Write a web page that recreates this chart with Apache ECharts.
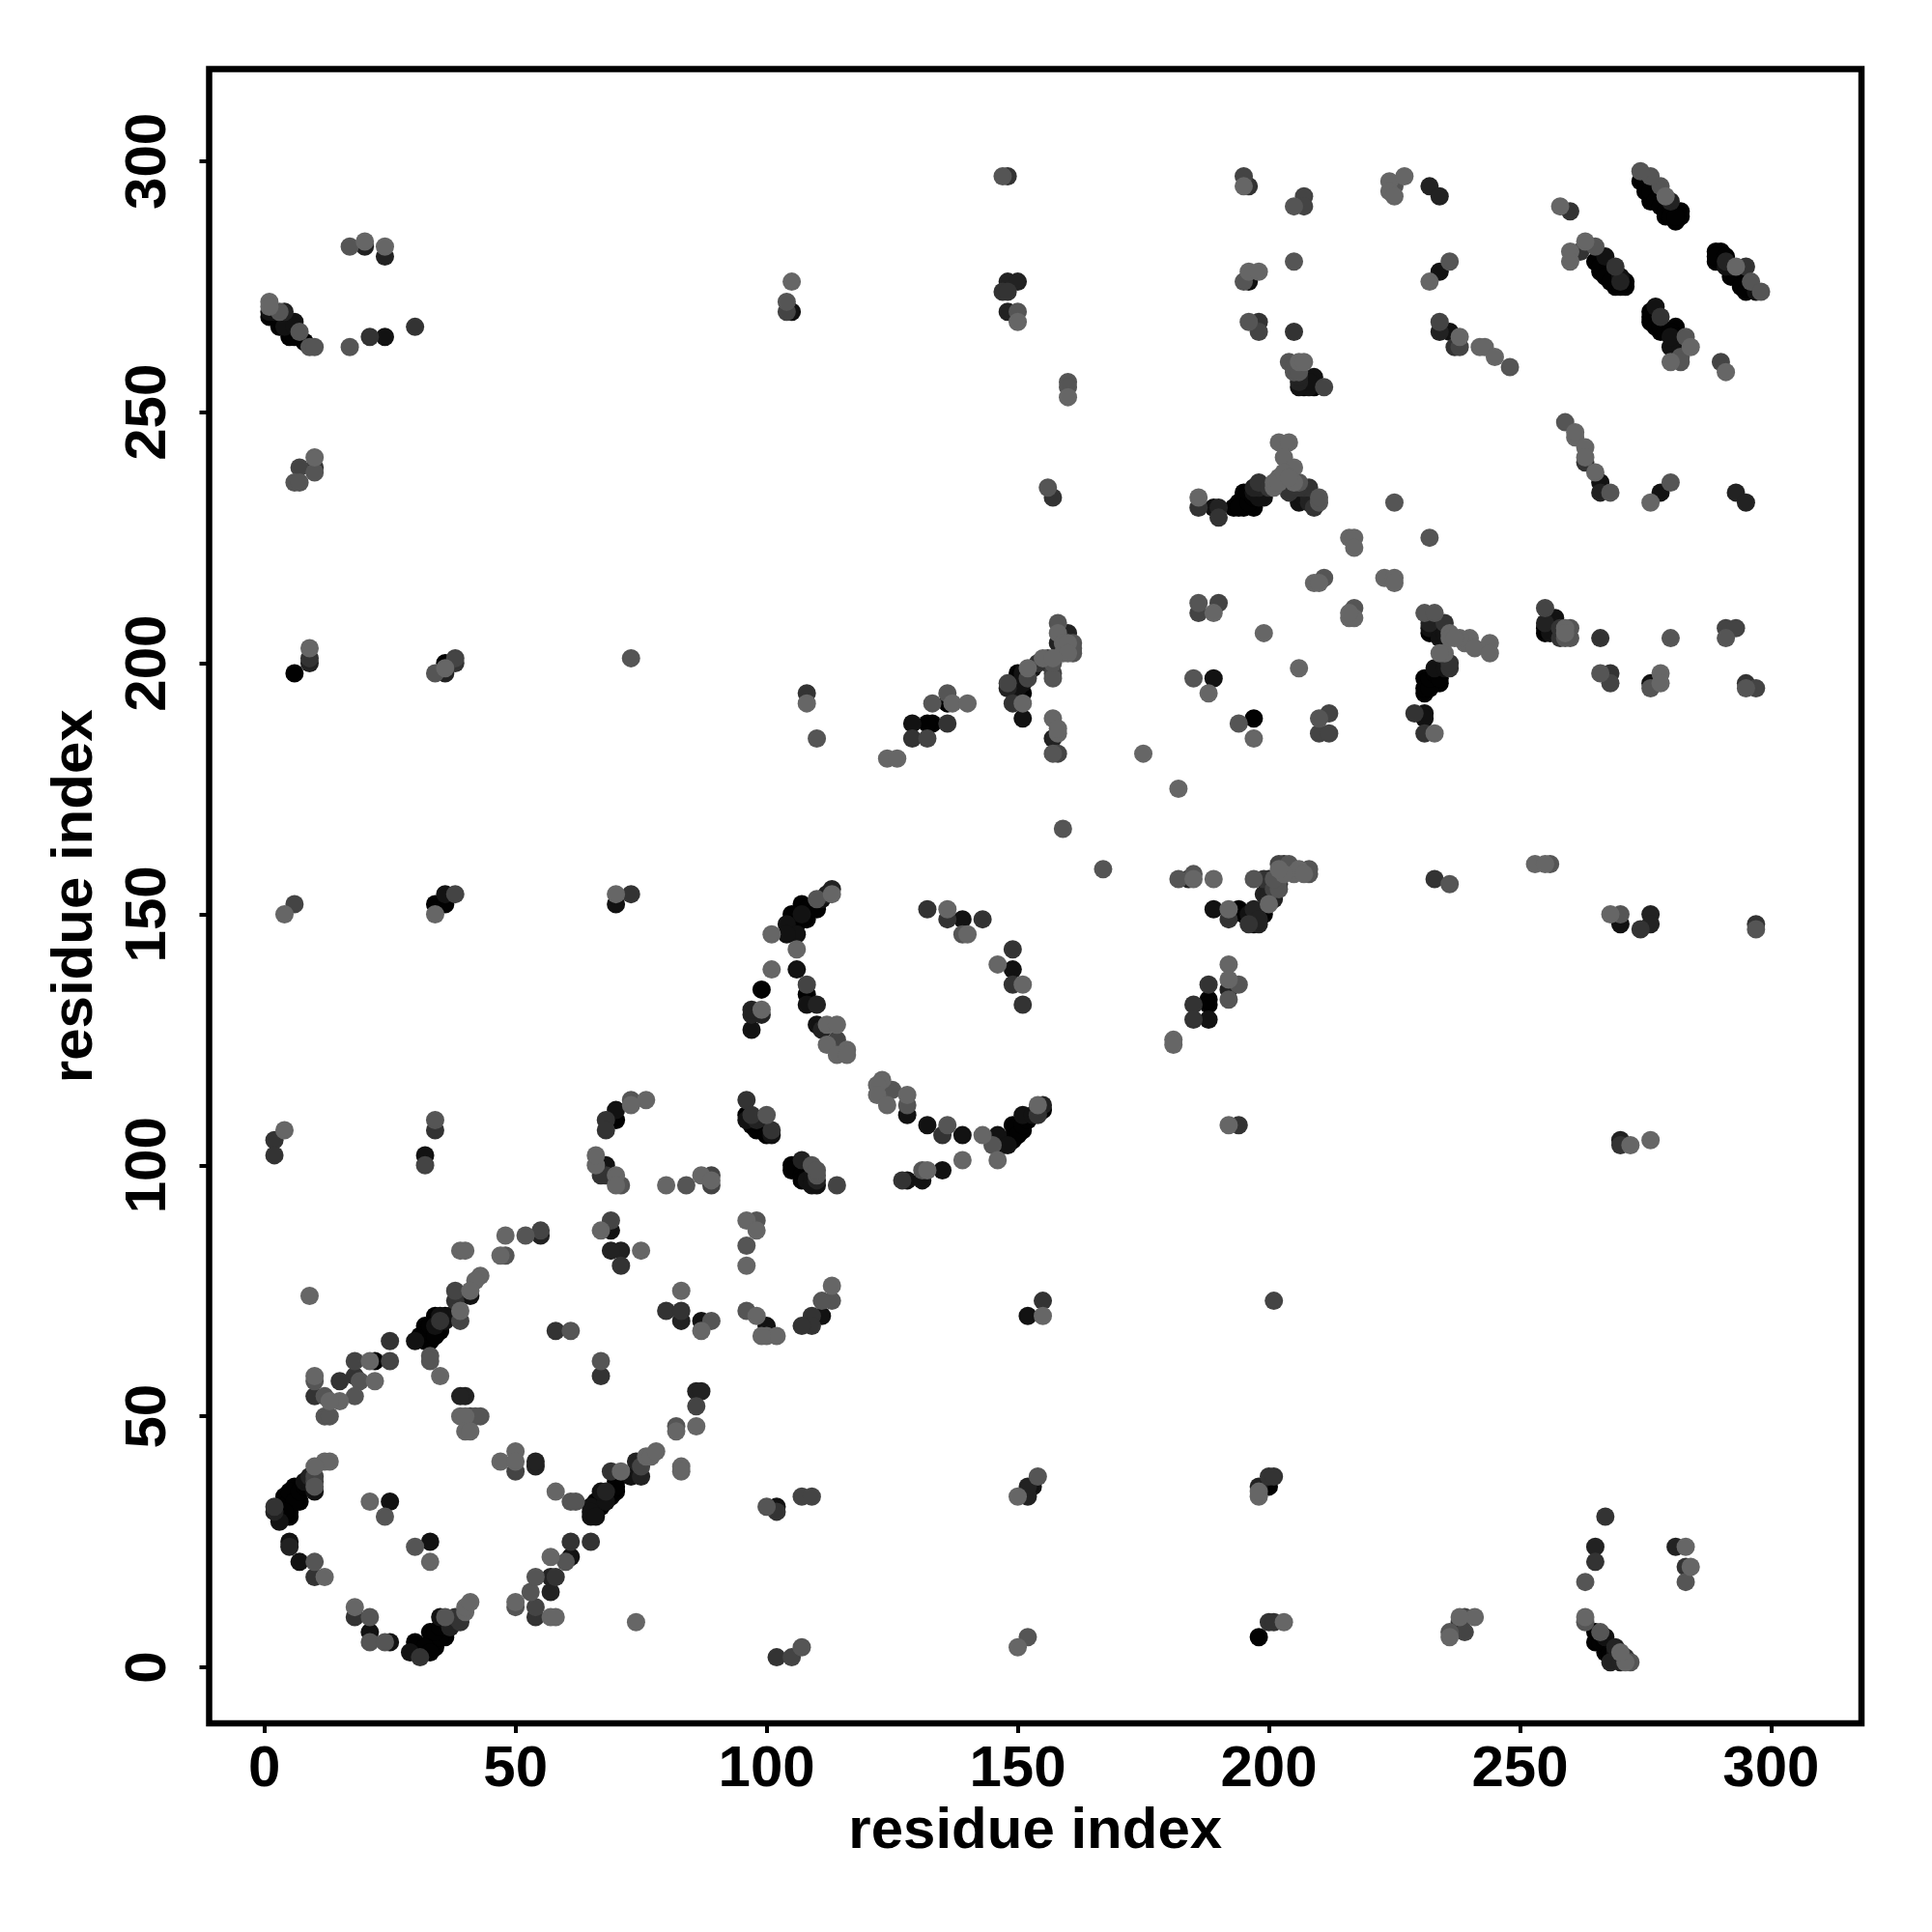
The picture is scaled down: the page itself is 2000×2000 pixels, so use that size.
<!DOCTYPE html>
<html><head><meta charset="utf-8">
<style>html,body{margin:0;padding:0;background:#fff}#c{width:2000px;height:2000px}</style>
<script src="https://cdn.jsdelivr.net/npm/echarts@6/dist/echarts.min.js"></script>
</head><body><div id="c"></div>
<script>
const tickValues=[0,50,100,150,200,250,300];
const axisTitle="residue index";
const shade000=[[30,5],[31,3],[33,5],[33,7],[34,4],[36,6],[67,32],[70,35],[70,37],[36,70],[34,70],[32,68],[35,67],[32,65],[33,65],[6,36],[6,35],[7,33],[4,34],[5,30],[5,31],[22,61],[107,152],[109,151],[105,150],[108,149],[108,134],[99,135],[146,104],[149,105],[149,108],[151,107],[155,111],[106,100],[188,133],[188,132],[194,151],[195,150],[198,150],[193,231],[195,231],[197,231],[195,234],[234,196],[231,197],[231,194],[233,196],[197,189],[274,296],[275,294],[276,292],[279,289],[281,288],[282,290],[282,289],[265,280],[266,278],[269,275],[271,276],[269,277],[289,282],[290,282],[289,280],[292,277],[295,275],[276,270],[276,268],[281,267],[278,266],[3,267],[5,265],[7,265],[1,269],[255,206],[200,36],[265,7],[265,5],[267,3],[133,188],[132,188],[136,192],[151,194],[150,198],[70,109],[6,198],[36,200],[34,152],[36,152],[198,6],
[32,4],[33,3],[35,6],[34,7],[35,8],[3,32],[5,33],[5,35],[6,33],[7,35],[8,36],[4,31],[66,31],[66,33],[68,34],[69,34],[69,35],[70,36],[67,33],[31,66],[33,67],[33,68],[34,66],[35,68],[105,148],[106,148],[107,149],[108,150],[108,151],[110,152],[110,151],[96,110],[97,108],[98,107],[99,108],[100,106],[105,100],[105,99],[107,98],[107,97],[108,98],[147,104],[148,105],[150,106],[151,108],[152,109],[276,294],[277,292],[278,291],[279,290],[280,290],[280,289],[281,289],[266,279],[267,277],[268,276],[270,275],[271,275],[289,281],[291,281],[293,277],[294,275],[295,274],[276,269],[277,267],[278,267],[279,266],[280,266],[281,265],[2,269],[3,268],[5,266],[6,265],[8,264],[232,206],[233,207],[234,206],[235,205],[231,195],[232,195],[232,197],[233,198],[234,197],[194,232],[194,231],[196,232],[196,234],[197,233],[196,149],[197,148],[199,150],[199,151],[207,255],[209,255],[255,207],[266,5],[267,5],[268,3],[268,2]];
const shade111=[[21,7],[29,3],[35,10],[25,5],[65,30],[65,32],[68,33],[67,35],[61,22],[34,68],[30,65],[3,29],[5,25],[7,21],[25,33],[33,25],[68,100],[69,87],[41,74],[87,69],[100,68],[73,38],[107,150],[104,148],[106,146],[104,146],[106,139],[108,132],[110,128],[128,110],[132,108],[139,106],[146,106],[148,104],[151,110],[108,97],[110,96],[128,97],[131,97],[135,99],[139,149],[149,139],[111,70],[152,70],[188,129],[189,151],[189,197],[189,231],[199,233],[206,232],[205,234],[232,207],[234,205],[233,199],[231,190],[231,189],[267,281],[297,274],[277,271],[280,263],[266,236],[278,234],[234,278],[196,276],[236,266],[105,270],[256,206],[257,209],[209,257],[208,255],[206,255],[276,196],[270,148],[267,6],[129,188],[151,189],[153,36],[102,32],[36,154],[70,152],[32,102],[70,111],[24,265],[6,268],
[10,35],[8,37],[9,37],[65,31],[66,30],[36,69],[37,70],[35,70],[111,153],[97,127],[96,109],[101,106],[109,97],[109,96],[150,195],[151,196],[151,198],[152,198],[153,199],[207,233],[269,2],[269,3],[154,111],[153,110],[1,270],[2,270],[4,267],[6,267],[196,150],[232,209],[235,206],[235,199],[197,234],[198,233],[207,256],[208,256],[292,279],[291,279],[270,277],[282,264],[282,263],[280,265]];
const shade222=[[2,31],[5,24],[75,38],[68,35],[74,41],[40,54],[39,54],[54,40],[54,41],[57,15],[57,18],[83,69],[86,55],[87,55],[71,83],[69,83],[9,38],[55,86],[113,155],[155,112],[110,132],[107,101],[110,97],[192,135],[197,151],[199,154],[190,231],[198,235],[232,208],[280,292],[4,270],[291,280],[270,276],[266,234],[293,234],[295,232],[232,295],[234,293],[234,266],[265,24],[281,24],[198,36],[276,150],[276,148],[269,4],[268,1],[148,276],[150,276],[148,270],[157,185],[160,206],[148,195],[36,198],[9,200],[20,283],[24,281],[206,256],[255,208],[152,34],[152,36],[270,105],[99,130],
[37,8],[98,109],[112,154],[111,127],[158,204],[198,148],[198,149],[200,153],[200,154],[201,153],[184,157],[200,157],[206,257],[270,1],[97,130],[97,131],[208,232],[208,233],[209,232],[197,235]];
const shade333=[[18,10],[31,2],[2,32],[54,10],[58,18],[61,25],[65,25],[69,39],[25,65],[35,69],[38,73],[18,58],[15,57],[10,54],[10,18],[58,67],[67,58],[71,80],[67,98],[135,106],[127,97],[109,70],[109,68],[107,68],[155,73],[132,151],[136,149],[143,149],[149,143],[149,136],[151,132],[194,108],[185,132],[185,129],[188,136],[192,149],[196,148],[199,157],[202,156],[154,200],[186,231],[190,229],[198,236],[204,234],[207,235],[208,235],[209,231],[235,208],[236,199],[229,190],[231,186],[260,290],[262,282],[269,279],[295,279],[278,269],[263,240],[30,267],[21,265],[10,239],[205,266],[198,268],[237,263],[157,233],[147,274],[148,274],[196,295],[258,205],[266,205],[268,198],[295,196],[233,157],[274,147],[297,148],[200,38],[201,38],[267,30],[265,21],[108,194],[129,185],[136,188],[149,192],[68,109],[68,107],[2,105],[2,102],[34,107],[9,201],[38,200],[73,154],[68,98],[154,110],[102,31],[102,2],[270,104],[283,20],
[148,297],[200,9],[201,9],[80,71],[83,71],[38,10],[39,9],[96,113],[97,110],[101,107],[156,200],[203,160],[200,235],[206,235],[236,200],[258,207],[271,2],[238,9]];
const shade444=[[89,98],[89,96],[55,87],[69,89],[75,40],[25,61],[18,61],[10,37],[10,38],[39,69],[38,75],[86,52],[50,39],[108,136],[114,96],[114,125],[201,73],[201,155],[186,210],[190,212],[212,190],[210,186],[212,186],[156,201],[157,198],[38,154],[38,201],[148,196],[152,197],[132,185],[6,152],[7,239],[195,297],[207,293],[207,291],[198,266],[234,268],[211,255],[238,263],[104,270],[290,260],[255,211],[291,207],[293,207],[268,196],[297,195],[239,10],[239,7],[32,100],[41,50],[54,12],[107,34],[109,34],[105,2],[158,182],[202,160]];
const shade555=[[21,5],[21,10],[24,5],[36,10],[50,12],[53,15],[54,18],[61,33],[62,33],[48,82],[52,86],[61,67],[67,61],[84,96],[71,96],[98,89],[96,84],[96,71],[89,69],[30,24],[24,30],[19,57],[18,54],[10,57],[12,54],[12,50],[13,50],[33,62],[33,61],[60,21],[10,36],[10,21],[82,48],[42,50],[43,50],[110,153],[109,100],[110,98],[125,115],[128,112],[136,108],[145,104],[131,99],[113,73],[111,73],[139,146],[194,136],[192,133],[182,157],[167,159],[197,157],[208,158],[185,197],[186,212],[210,189],[194,188],[217,211],[225,232],[232,225],[211,217],[231,210],[233,210],[265,283],[278,295],[276,297],[274,298],[283,265],[282,261],[282,260],[259,248],[268,234],[280,236],[248,259],[236,280],[296,276],[298,274],[17,283],[17,263],[7,266],[9,263],[10,263],[3,270],[6,236],[7,236],[10,238],[205,291],[225,295],[196,268],[195,276],[205,280],[204,260],[205,259],[160,256],[160,255],[156,235],[147,297],[150,270],[104,272],[260,205],[260,207],[280,205],[291,205],[266,198],[270,150],[256,160],[236,156],[295,195],[276,195],[297,147],[263,17],[263,9],[236,7],[283,17],[266,7],[272,1],[133,192],[136,194],[158,208],[161,204],[161,202],[161,203],[157,197],[157,182],[159,167],[110,185],[34,198],[34,109],[73,201],[73,113],[154,38],[152,6],[107,4],[100,32],
[100,110],[110,99],[157,200],[202,155],[202,157],[201,157],[204,160],[185,158],[208,159],[205,258],[206,258],[206,236],[210,232],[210,233],[259,205]];
const shade666=[[18,12],[40,11],[40,12],[41,13],[50,13],[57,10],[58,10],[57,22],[58,35],[47,41],[50,43],[50,41],[83,40],[83,39],[82,47],[86,48],[87,67],[80,96],[87,98],[89,97],[66,100],[66,102],[70,98],[70,96],[67,87],[75,83],[96,89],[98,87],[96,80],[98,70],[100,66],[83,75],[9,74],[39,83],[40,83],[48,86],[47,82],[43,78],[42,77],[41,75],[39,71],[35,58],[21,61],[22,57],[10,58],[15,53],[13,53],[12,41],[13,41],[10,40],[21,33],[33,21],[12,18],[74,9],[76,42],[77,42],[78,43],[71,39],[39,50],[40,50],[40,47],[41,47],[113,154],[106,143],[101,146],[101,139],[112,128],[114,128],[112,124],[116,123],[114,122],[116,122],[99,131],[123,117],[122,116],[122,114],[124,112],[128,114],[143,106],[146,101],[139,101],[132,99],[154,112],[136,151],[140,146],[146,140],[151,136],[113,76],[102,66],[99,66],[155,70],[192,108],[181,125],[181,124],[192,140],[192,137],[192,151],[200,152],[185,157],[189,157],[186,233],[202,244],[204,244],[203,241],[205,239],[202,237],[201,235],[216,225],[217,225],[217,223],[209,216],[210,216],[223,217],[225,217],[225,216],[189,210],[216,209],[217,209],[216,210],[199,206],[206,199],[188,194],[197,185],[175,182],[182,175],[233,186],[236,206],[240,205],[239,204],[241,203],[244,204],[244,202],[238,205],[235,202],[234,202],[258,291],[263,284],[260,282],[260,280],[279,293],[293,279],[284,263],[280,260],[291,258],[261,245],[261,246],[263,243],[263,241],[265,238],[276,232],[238,265],[242,263],[243,263],[245,261],[20,284],[24,283],[1,272],[1,271],[10,241],[105,276],[150,268],[160,253],[224,296],[224,294],[225,293],[227,297],[195,295],[196,278],[198,278],[232,276],[206,260],[207,260],[259,207],[259,206],[278,198],[278,196],[253,160],[255,160],[268,150],[272,104],[276,105],[283,24],[284,20],[203,9],[241,10],[198,34],[198,35],[263,10],[271,1],[270,3],[236,6],[238,10],[108,192],[124,181],[126,181],[137,192],[140,192],[151,192],[152,199],[155,201],[158,206],[159,202],[157,189],[158,186],[158,187],[4,107],[76,113],[73,112],[4,150],[36,199],[70,154],[34,150],[9,203],[150,34],[150,4],
[201,236],[202,236],[205,236],[203,238],[204,237],[205,158],[206,159],[207,158],[203,158],[202,159],[159,204],[160,204],[160,202],[157,201],[236,205],[237,205]];
const shadeGroups=[["#020202",shade000],["#121212",shade111],["#222222",shade222],["#333333",shade333],["#444444",shade444],["#555555",shade555],["#666666",shade666]];
const font='"Liberation Sans",Arial,sans-serif';
function axis(rot,lo,hi){return {type:'value',min:lo,max:hi,name:axisTitle,nameLocation:'middle',
 nameTextStyle:{fontFamily:font,fontWeight:'bold',fontSize:60,color:'#000'},
 splitLine:{show:false},axisLine:{show:false,onZero:false},
 axisTick:{show:true,length:10,inside:false,lineStyle:{color:'#000',width:4},customValues:tickValues},
 axisLabel:{show:true,fontFamily:font,fontWeight:'bold',fontSize:60,color:'#000',rotate:rot,margin:rot?32:18,customValues:tickValues,formatter:v=>String(v)}};}
const chart=echarts.init(document.getElementById('c'),null,{renderer:'canvas'});
const xa=axis(0,-11,318);xa.nameGap=76;
const ya=axis(90,-11.16,318.35);ya.nameGap=108;
chart.setOption({animation:false,backgroundColor:'#fff',
 grid:{left:216.5,top:71.5,width:1710.5,height:1712.5,show:true,borderColor:'#000',borderWidth:6.5,backgroundColor:'#fff',containLabel:false},
 xAxis:xa,yAxis:ya,
 series:shadeGroups.map(([c,d])=>({type:'scatter',data:d,symbol:'circle',symbolSize:19,itemStyle:{color:c,opacity:1},large:false,silent:true}))});
</script></body></html>
